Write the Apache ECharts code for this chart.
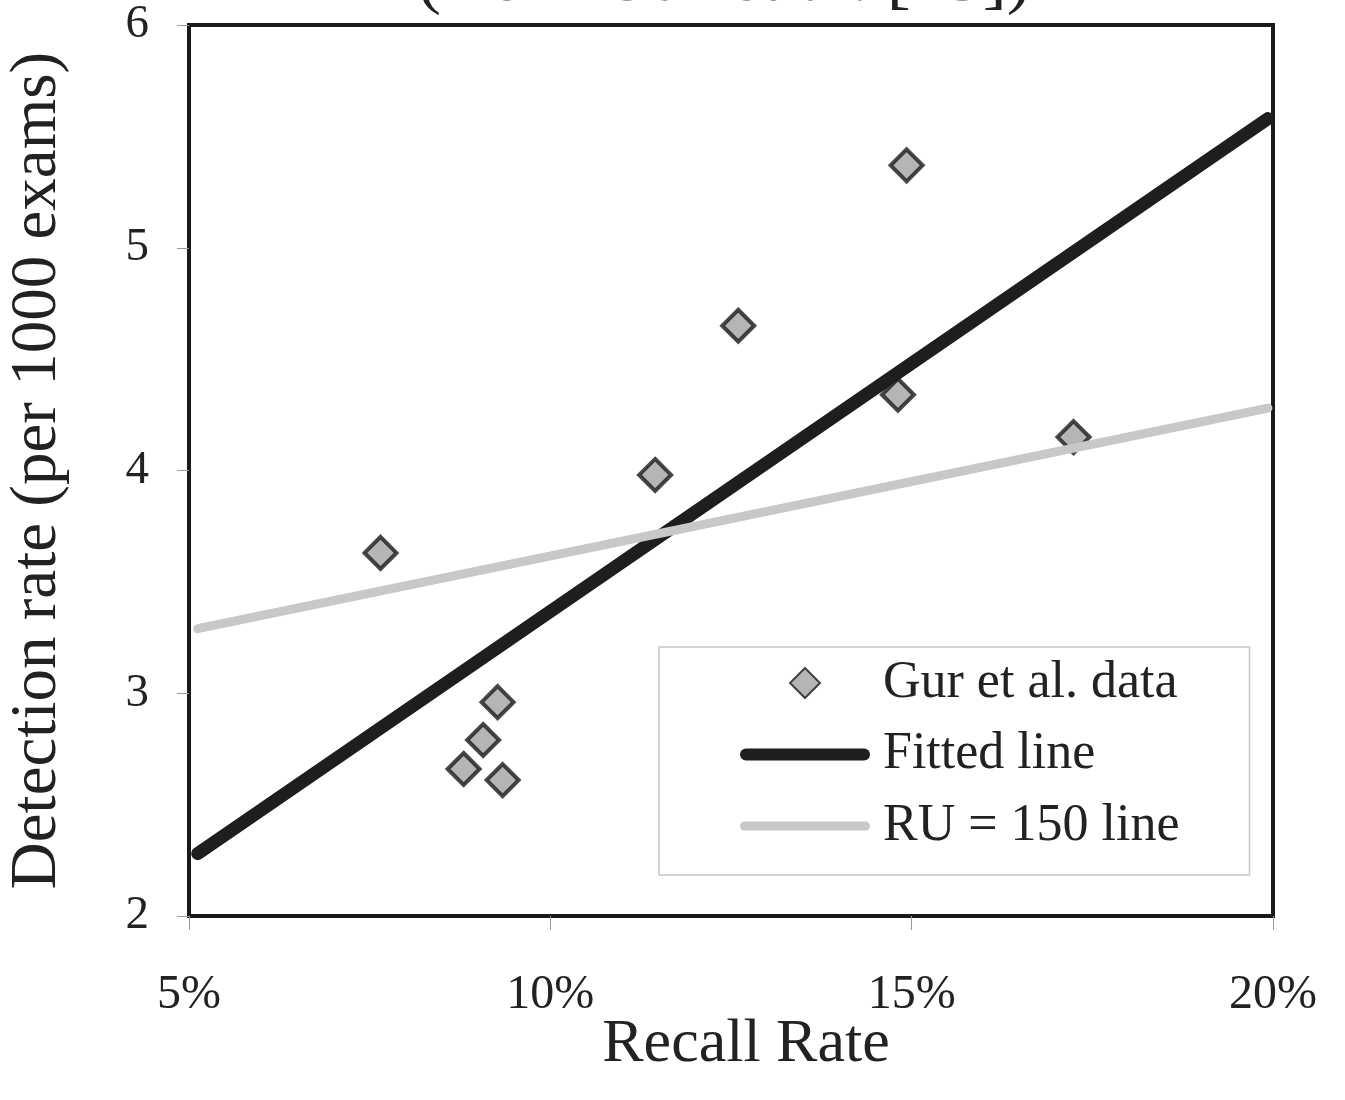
<!DOCTYPE html>
<html>
<head>
<meta charset="utf-8">
<script src="https://cdn.jsdelivr.net/npm/echarts@6/dist/echarts.min.js"></script>
<style>
html,body{margin:0;padding:0;background:#fff;}
#chart{width:1345px;height:1100px;}
</style>
</head>
<body>
<div id="chart"></div>
<script>
// Data
const recallRate = [7.65, 9.27, 9.07, 8.80, 9.34, 11.45, 12.60, 14.81, 14.93, 17.24];
const detectionRate = [3.63, 2.96, 2.79, 2.66, 2.61, 3.98, 4.65, 4.34, 5.37, 4.15];
const fittedX = [5.12, 19.93];
const fittedY = [2.28, 5.58];
const ru150X = [5.12, 19.93];
const ru150Y = [3.29, 4.28];
const seriesNames = ['Gur et al. data', 'Fitted line', 'RU = 150 line'];
const xTicks = [5, 10, 15, 20];
const yTicks = [2, 3, 4, 5, 6];
const titleText = '(from Gur et al. [15])';

const zip = (a, b) => a.map((v, i) => [v, b[i]]);
const FONT = 'Liberation Serif';
const diamondIcon = 'path://M0,-10 L10,0 L0,10 L-10,0 Z';
const thickLineIcon = 'path://M6,0 L124,0 A6,6 0 0 1 124,12 L6,12 A6,6 0 0 1 6,0 Z';
const thinLineIcon = 'path://M4.5,0 L125.5,0 A4.5,4.5 0 0 1 125.5,9 L4.5,9 A4.5,4.5 0 0 1 4.5,0 Z';

const chart = echarts.init(document.getElementById('chart'), null, {renderer: 'canvas'});
chart.setOption({
  backgroundColor: '#ffffff',
  animation: false,
  textStyle: {fontFamily: FONT, color: '#222'},
  title: {
    text: titleText,
    left: 412,
    top: -60,
    textStyle: {fontFamily: FONT, fontSize: 72, fontWeight: 'normal', color: '#222'}
  },
  grid: {
    left: 189, right: 72, top: 25, bottom: 184,
    containLabel: false,
    outerBoundsMode: 'none',
    show: true, borderColor: '#1a1a1a', borderWidth: 4, backgroundColor: 'transparent'
  },
  legend: {
    data: [
      {name: seriesNames[0], icon: diamondIcon},
      {name: seriesNames[1], icon: thickLineIcon},
      {name: seriesNames[2], icon: thinLineIcon}
    ],
    orient: 'vertical',
    left: 659,
    top: 647,
    padding: [6, 70, 19, 81],
    itemWidth: 130,
    itemHeight: 30,
    itemGap: 11.5,
    symbolKeepAspect: true,
    borderColor: '#c8c8c8',
    borderWidth: 1.5,
    backgroundColor: '#fff',
    textStyle: {fontFamily: FONT, fontSize: 52, color: '#222', lineHeight: 60, padding: [0, 0, 0, 8]}
  },
  xAxis: {
    type: 'value',
    min: xTicks[0], max: xTicks[xTicks.length - 1], interval: 5,
    name: 'Recall Rate',
    nameLocation: 'middle',
    nameGap: 98,
    nameMoveOverlap: false,
    nameTextStyle: {fontFamily: FONT, fontSize: 62, color: '#222', padding: [0, 0, 0, 30]},
    axisLine: {show: false},
    axisTick: {show: true, length: 14, lineStyle: {color: '#999', width: 1}},
    splitLine: {show: false},
    axisLabel: {margin: 55, fontFamily: FONT, fontSize: 48, color: '#222', formatter: '{value}%'}
  },
  yAxis: {
    type: 'value',
    min: yTicks[0], max: yTicks[yTicks.length - 1], interval: 1,
    name: 'Detection rate (per 1000 exams)',
    nameLocation: 'middle',
    nameGap: 119,
    nameMoveOverlap: false,
    nameTextStyle: {fontFamily: FONT, fontSize: 65, color: '#222'},
    axisLine: {show: false},
    axisTick: {show: true, length: 12, lineStyle: {color: '#999', width: 1}},
    splitLine: {show: false},
    axisLabel: {margin: 40, fontFamily: FONT, fontSize: 47, color: '#222'}
  },
  series: [
    {
      name: seriesNames[0],
      type: 'scatter',
      data: zip(recallRate, detectionRate),
      symbol: 'diamond',
      symbolSize: 32,
      itemStyle: {color: '#a3a3a3', borderColor: '#1a1a1a', borderWidth: 4},
      z: 2
    },
    {
      name: seriesNames[1],
      type: 'line',
      data: zip(fittedX, fittedY),
      symbol: 'none',
      lineStyle: {color: '#1e1e1e', width: 13, cap: 'round'},
      itemStyle: {color: '#1e1e1e'},
      z: 3
    },
    {
      name: seriesNames[2],
      type: 'line',
      data: zip(ru150X, ru150Y),
      symbol: 'none',
      lineStyle: {color: '#c8c8c8', width: 9, cap: 'round'},
      itemStyle: {color: '#c8c8c8'},
      z: 3
    }
  ]
});
</script>
</body>
</html>
